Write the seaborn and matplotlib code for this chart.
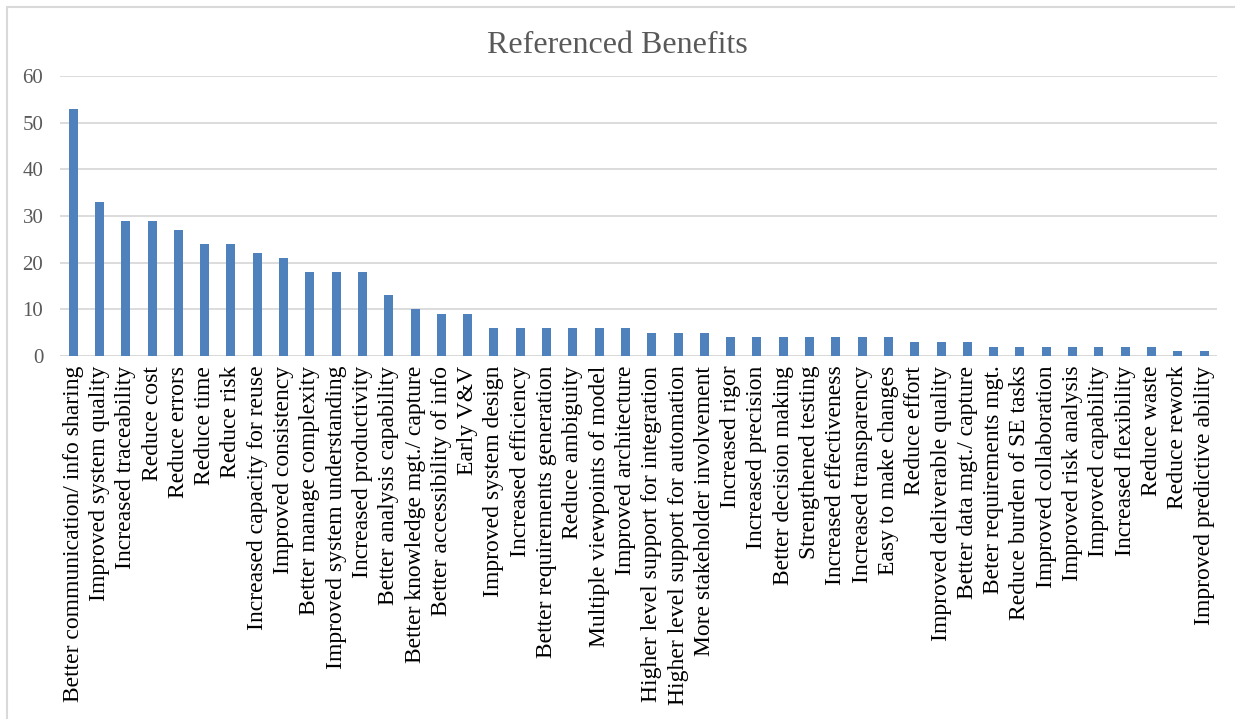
import matplotlib
matplotlib.use("Agg")
import matplotlib.pyplot as plt
import seaborn as sns
import pandas as pd
from matplotlib.patches import Rectangle

benefits = [
    "Better communication/ info sharing", "Improved system quality", "Increased traceability",
    "Reduce cost", "Reduce errors", "Reduce time", "Reduce risk", "Increased capacity for reuse",
    "Improved consistency", "Better manage complexity", "Improved system understanding",
    "Increased productivity", "Better analysis capability", "Better knowledge mgt./ capture",
    "Better accessibility of info", "Early V&V", "Improved system design", "Increased efficiency",
    "Better requirements generation", "Reduce ambiguity", "Multiple viewpoints of model",
    "Improved architecture", "Higher level support for integration",
    "Higher level support for automation", "More stakeholder involvement", "Increased rigor",
    "Increased precision", "Better decision making", "Strengthened testing",
    "Increased effectiveness", "Increased transparency", "Easy to make changes", "Reduce effort",
    "Improved deliverable quality", "Better data mgt./ capture", "Beter requirements mgt.",
    "Reduce burden of SE tasks", "Improved collaboration", "Improved risk analysis",
    "Improved capability", "Increased flexibility", "Reduce waste", "Reduce rework",
    "Improved predictive ability",
]
counts = [53, 33, 29, 29, 27, 24, 24, 22, 21, 18, 18, 18, 13, 10, 9, 9, 6, 6, 6, 6, 6, 6,
          5, 5, 5, 4, 4, 4, 4, 4, 4, 4, 3, 3, 3, 2, 2, 2, 2, 2, 2, 2, 1, 1]
y_ticks = [0, 10, 20, 30, 40, 50, 60]

df = pd.DataFrame({"Benefit": benefits, "Count": counts})

sns.set_theme(style="white")
plt.rcParams["font.family"] = ["Liberation Serif", "DejaVu Serif"]

text_col = "#595959"
grid_col = "#D9D9D9"

fig = plt.figure(figsize=(12.35, 7.19), dpi=100)
ax = fig.add_axes([0.0486, 0.505, 0.937, 0.389])

sns.barplot(data=df, x="Benefit", y="Count", color="#4F81BD", width=0.34,
            saturation=1, linewidth=0, ax=ax, zorder=3)

ax.set_ylim(0, 60)
ax.set_yticks(y_ticks)
ax.set_xlim(-0.5, len(benefits) - 0.5)
ax.yaxis.grid(True, color=grid_col, linewidth=1.3, zorder=0)
ax.set_axisbelow(True)
for s in ax.spines.values():
    s.set_visible(False)
ax.axhline(0, color=grid_col, linewidth=1.3, zorder=1)

ax.tick_params(axis="both", length=0, colors=text_col)
ax.tick_params(axis="y", pad=12, labelsize=15)
ax.tick_params(axis="x", pad=7)
ax.set_xticks(range(len(benefits)))
ax.set_xticklabels(benefits, rotation=90, fontsize=17, color="black")
ax.set_xlabel("")
ax.set_ylabel("")

fig.text(0.5, 0.937, "Referenced Benefits", ha="center", va="center",
         fontsize=23, color=text_col)

fig.patches.append(Rectangle((0.006, -0.01), 1.1, 1.0, transform=fig.transFigure,
                             fill=False, edgecolor=grid_col, linewidth=1.5))

fig.savefig("out.png", dpi=100)
